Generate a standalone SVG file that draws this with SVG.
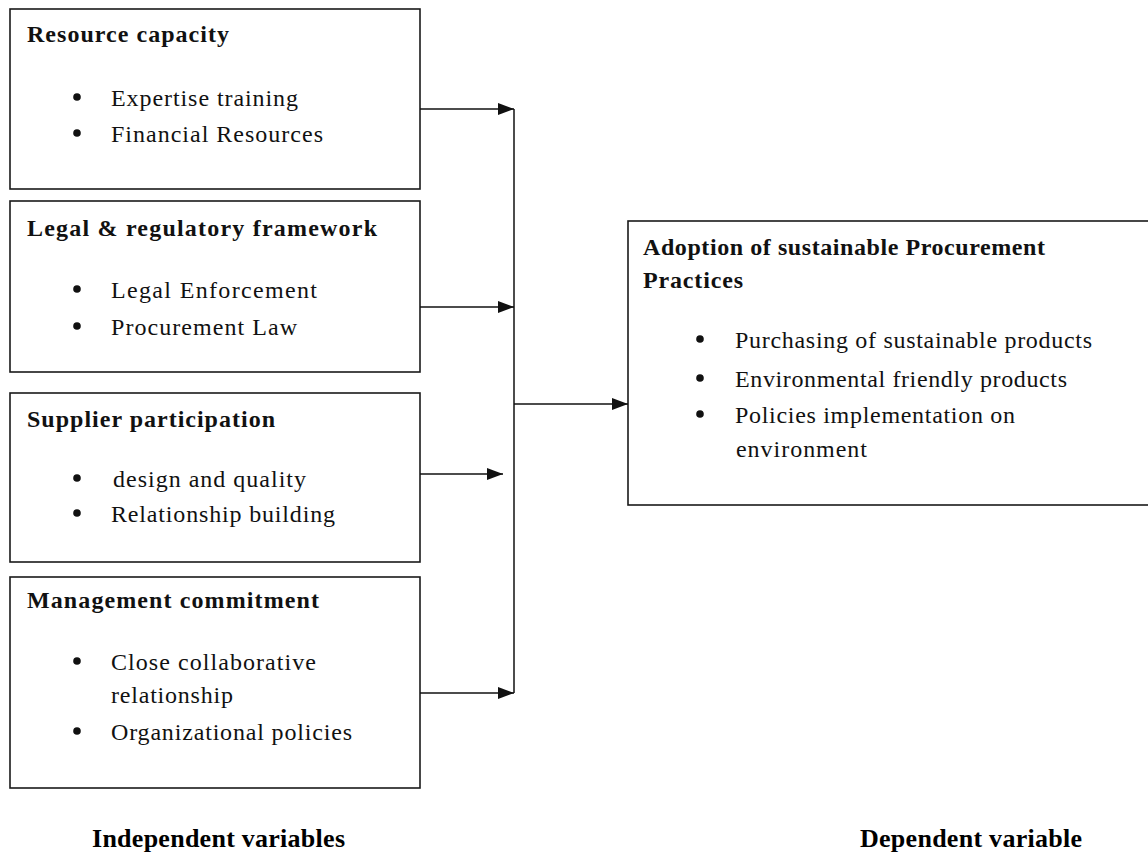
<svg xmlns="http://www.w3.org/2000/svg" width="1148" height="852" viewBox="0 0 1148 852">
<style>
.box{fill:#fff;stroke:#1a1a1a;stroke-width:1.6}
.t{font-family:"Liberation Serif","Times New Roman",serif;font-size:24px;font-weight:bold;fill:#111}
.b{font-family:"Liberation Serif","Times New Roman",serif;font-size:24px;fill:#111}
.lab{font-family:"Liberation Serif","Times New Roman",serif;font-size:26px;font-weight:bold;fill:#000}
.dot{fill:#111}
.c{stroke:#111;stroke-width:1.5;fill:none}
</style>
<defs>
<marker id="ah" markerWidth="16" markerHeight="12" refX="16" refY="6" orient="auto" markerUnits="userSpaceOnUse">
<path d="M0,0 L16,6 L0,12 Z" fill="#111"/>
</marker>
</defs>
<rect width="1148" height="852" fill="#fff"/>

<g id="resource-capacity">
<rect class="box" x="10" y="9" width="410" height="180"/>
<text class="t" x="27" y="42" textLength="202" lengthAdjust="spacing">Resource capacity</text>
<circle class="dot" cx="77" cy="97" r="3.8"/>
<text class="b" x="111" y="106" textLength="187" lengthAdjust="spacing">Expertise training</text>
<circle class="dot" cx="77" cy="133" r="3.8"/>
<text class="b" x="111" y="142" textLength="212" lengthAdjust="spacing">Financial Resources</text>
</g>

<g id="legal-framework">
<rect class="box" x="10" y="201" width="410" height="171"/>
<text class="t" x="27" y="236" textLength="350" lengthAdjust="spacing">Legal &amp; regulatory framework</text>
<circle class="dot" cx="77" cy="289" r="3.8"/>
<text class="b" x="111" y="298" textLength="206" lengthAdjust="spacing">Legal Enforcement</text>
<circle class="dot" cx="77" cy="326" r="3.8"/>
<text class="b" x="111" y="335" textLength="186" lengthAdjust="spacing">Procurement Law</text>
</g>

<g id="supplier-participation">
<rect class="box" x="10" y="393" width="410" height="169"/>
<text class="t" x="27" y="427" textLength="248" lengthAdjust="spacing">Supplier participation</text>
<circle class="dot" cx="77" cy="478" r="3.8"/>
<text class="b" x="113" y="487" textLength="193" lengthAdjust="spacing">design and quality</text>
<circle class="dot" cx="77" cy="513" r="3.8"/>
<text class="b" x="111" y="522" textLength="224" lengthAdjust="spacing">Relationship building</text>
</g>

<g id="management-commitment">
<rect class="box" x="10" y="577" width="410" height="211"/>
<text class="t" x="27" y="608" textLength="292" lengthAdjust="spacing">Management commitment</text>
<circle class="dot" cx="77" cy="661" r="3.8"/>
<text class="b" x="111" y="670" textLength="205" lengthAdjust="spacing">Close collaborative</text>
<text class="b" x="111" y="703" textLength="122" lengthAdjust="spacing">relationship</text>
<circle class="dot" cx="77" cy="731" r="3.8"/>
<text class="b" x="111" y="740" textLength="241" lengthAdjust="spacing">Organizational policies</text>
</g>

<g id="adoption">
<rect class="box" x="628" y="221" width="560" height="284"/>
<text class="t" x="643" y="255" textLength="402" lengthAdjust="spacing">Adoption of sustainable Procurement</text>
<text class="t" x="643" y="288" textLength="100" lengthAdjust="spacing">Practices</text>
<circle class="dot" cx="700" cy="339" r="3.8"/>
<text class="b" x="735" y="348" textLength="357" lengthAdjust="spacing">Purchasing of sustainable products</text>
<circle class="dot" cx="700" cy="378" r="3.8"/>
<text class="b" x="735" y="387" textLength="332" lengthAdjust="spacing">Environmental friendly products</text>
<circle class="dot" cx="700" cy="414" r="3.8"/>
<text class="b" x="735" y="423" textLength="280" lengthAdjust="spacing">Policies implementation on</text>
<text class="b" x="736" y="457" textLength="131" lengthAdjust="spacing">environment</text>
</g>

<g id="connectors">
<line class="c" x1="514" y1="109" x2="514" y2="693"/>
<line class="c" x1="420" y1="109" x2="514" y2="109" marker-end="url(#ah)"/>
<line class="c" x1="420" y1="307" x2="514" y2="307" marker-end="url(#ah)"/>
<line class="c" x1="420" y1="474" x2="503" y2="474" marker-end="url(#ah)"/>
<line class="c" x1="420" y1="693" x2="514" y2="693" marker-end="url(#ah)"/>
<line class="c" x1="514" y1="404" x2="628" y2="404" marker-end="url(#ah)"/>
</g>

<g id="labels">
<text class="lab" x="92" y="847" textLength="253" lengthAdjust="spacing">Independent variables</text>
<text class="lab" x="860" y="847" textLength="222" lengthAdjust="spacing">Dependent variable</text>
</g>
</svg>
